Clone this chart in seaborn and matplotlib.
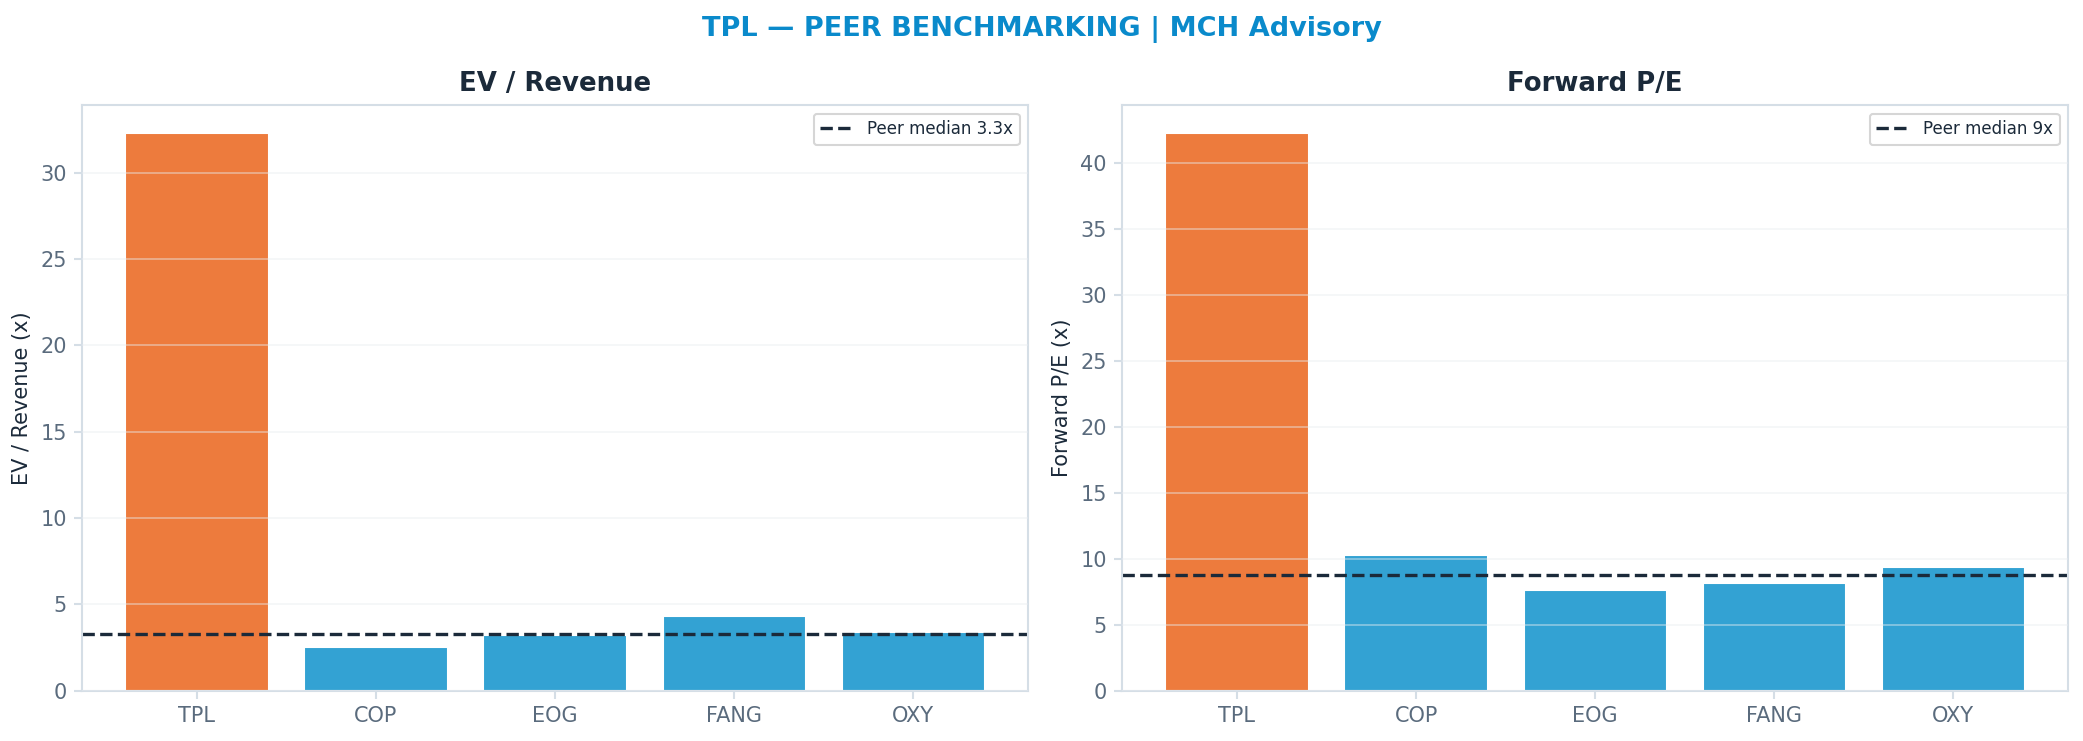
import matplotlib
matplotlib.use("Agg")
import matplotlib.pyplot as plt
import seaborn as sns
import numpy as np
import pandas as pd

tickers = ["TPL", "COP", "EOG", "FANG", "OXY"]
ev_revenue = [32.3, 2.5, 3.2, 4.3, 3.4]
forward_pe = [42.3, 10.3, 7.6, 8.2, 9.4]
panel_titles = ["EV / Revenue", "Forward P/E"]
y_labels = ["EV / Revenue (x)", "Forward P/E (x)"]
median_fmt = ["{:.1f}x", "{:.0f}x"]

ORANGE = "#ED7B3D"
BLUE = "#33A2D3"
DARK = "#1B2A3A"
TICK = "#5A6B7D"
SPINE = "#D5DEE6"

sns.set_theme(style="white")
plt.rcParams["font.family"] = ["DejaVu Sans"]

fig, axes = plt.subplots(1, 2, figsize=(13.893, 4.94), dpi=150)
fig.subplots_adjust(left=0.0395, right=0.9923, top=0.858, bottom=0.068, wspace=0.1)

for ax, vals, title, ylab, fmt in zip(axes, [ev_revenue, forward_pe], panel_titles, y_labels, median_fmt):
    df = pd.DataFrame({"ticker": tickers, "value": vals})
    palette = [ORANGE] + [BLUE] * (len(tickers) - 1)
    sns.barplot(data=df, x="ticker", y="value", hue="ticker", palette=palette,
                legend=False, width=0.8, saturation=1, ax=ax)
    med = float(np.median(vals[1:]))
    ax.axhline(med, color=DARK, linestyle="--", linewidth=1.6,
               label="Peer median " + fmt.format(med))
    ax.set_xlim(-0.64, len(tickers) - 0.36)
    ax.set_ylim(0, max(vals) * 1.05)
    ax.set_title(title, fontsize=12.5, fontweight="bold", color=DARK, pad=7)
    ax.set_ylabel(ylab, fontsize=10, color=DARK)
    ax.set_xlabel("")
    ax.set_axisbelow(False)
    ax.grid(axis="y", color="#E8ECF0", alpha=0.5, linewidth=0.8)
    ax.grid(axis="x", visible=False)
    ax.tick_params(axis="both", colors=SPINE, labelsize=10, length=4, width=1, direction="out",
                   bottom=True, left=True)
    ax.tick_params(axis="both", labelcolor=TICK)
    for s in ax.spines.values():
        s.set_color(SPINE)
        s.set_linewidth(1.0)
    leg = ax.legend(loc="upper right", fontsize=8, frameon=True, fancybox=True,
                    labelcolor=DARK)
    leg.get_frame().set_edgecolor("#CCCCCC")

fig.suptitle("TPL — PEER BENCHMARKING | MCH Advisory", fontsize=13, fontweight="bold",
             color="#0A8ACB", y=0.978)

fig.savefig("out.png", dpi=150)
